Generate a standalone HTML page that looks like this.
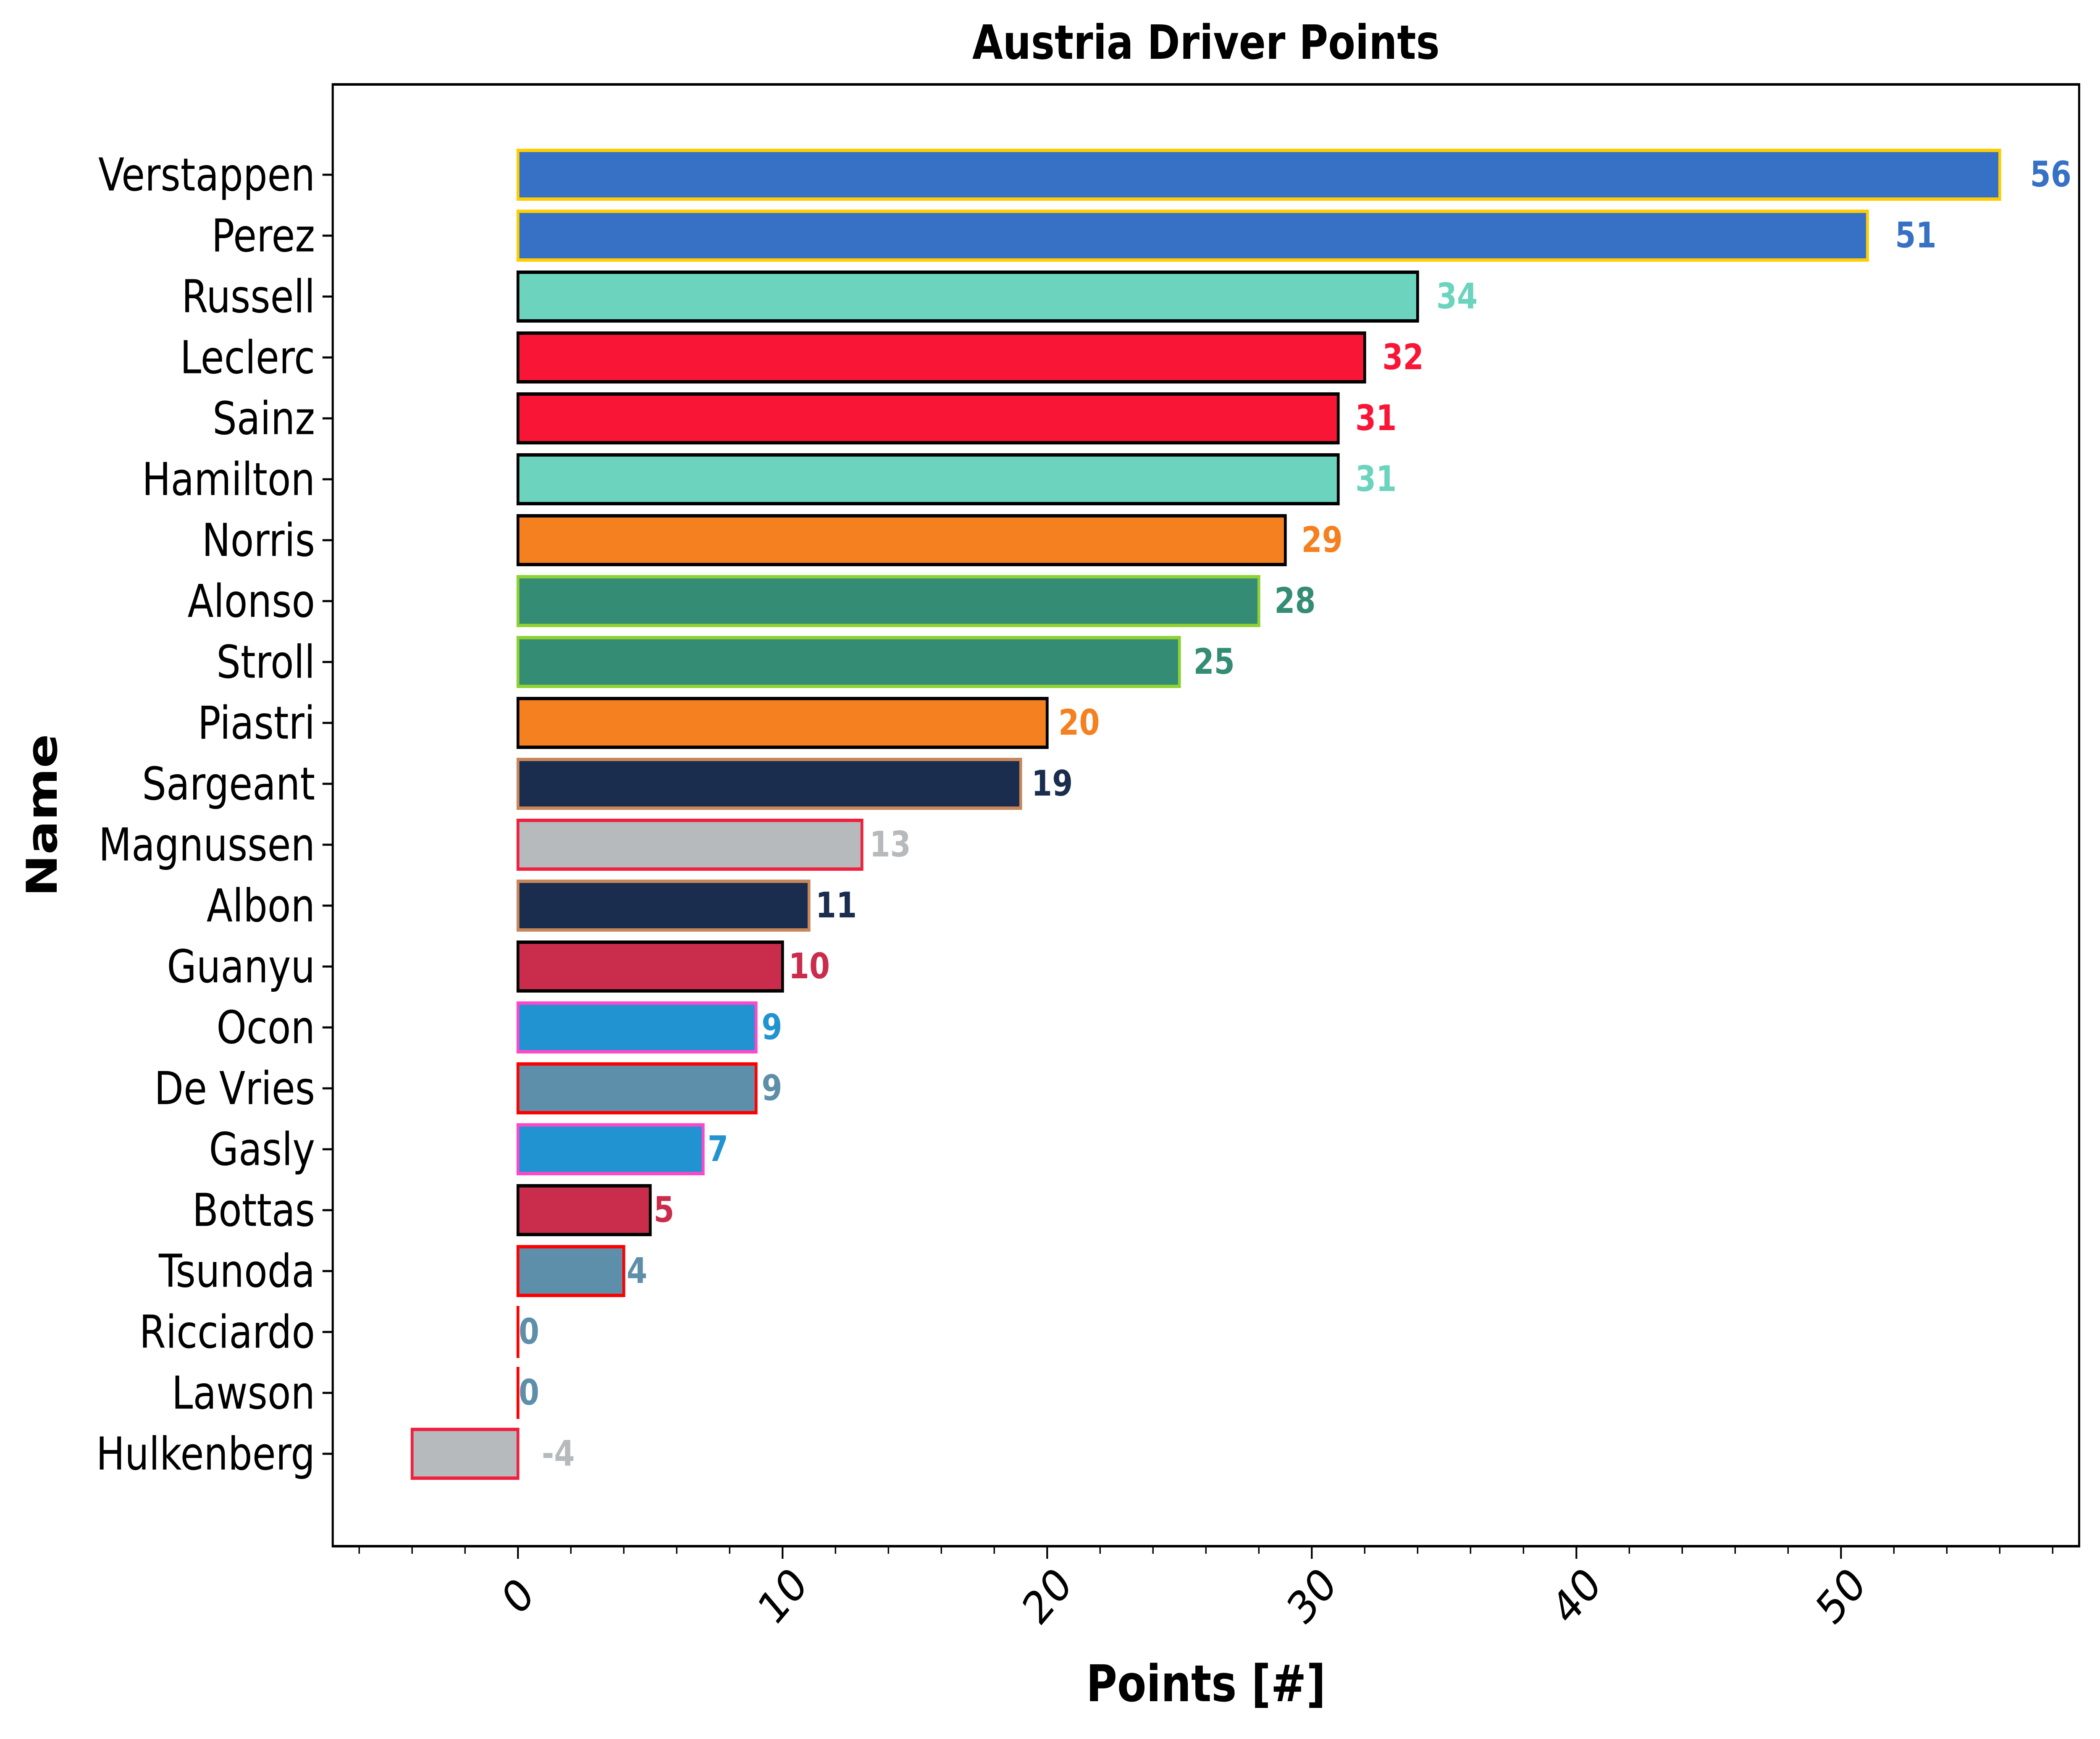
<!DOCTYPE html>
<html><head><meta charset="utf-8"><style>
html,body{margin:0;padding:0;background:#fff;overflow:hidden;width:100vw;height:100vh;}
svg{display:block;width:100vw;height:100vh;font-family:"DejaVu Sans","Liberation Sans",sans-serif;}
</style></head><body>
<svg id="chart" viewBox="0 0 5939 4140" preserveAspectRatio="none" xmlns="http://www.w3.org/2000/svg">
<rect x="0" y="0" width="5939" height="4140" fill="#fff"/>
<g id="bars"></g>
<g id="axes"></g>
</svg>
<script>
const drivers = ["Verstappen","Perez","Russell","Leclerc","Sainz","Hamilton","Norris","Alonso","Stroll","Piastri","Sargeant","Magnussen","Albon","Guanyu","Ocon","De Vries","Gasly","Bottas","Tsunoda","Ricciardo","Lawson","Hulkenberg"];
const points = [56,51,34,32,31,31,29,28,25,20,19,13,11,10,9,9,7,5,4,0,0,-4];
const fills = ["#3671C6","#3671C6","#6CD3BF","#F91536","#F91536","#6CD3BF","#F58020","#358C75","#358C75","#F58020","#1B2D4F","#B6BABD","#1B2D4F","#C92D4B","#2293D1","#5E8FAA","#2293D1","#C92D4B","#5E8FAA","#5E8FAA","#5E8FAA","#B6BABD"];
const edges = ["#FFCD00","#FFCD00","#000000","#000000","#000000","#000000","#000000","#8FD032","#8FD032","#000000","#C8875A","#F0213F","#C8875A","#000000","#FF47CC","#FF0000","#FF47CC","#000000","#FF0000","#FF0000","#FF0000","#F0213F"];
const xMajorTicks = [0,10,20,30,40,50];
const xMinorTicks = [-6,-4,-2,2,4,6,8,12,14,16,18,22,24,26,28,32,34,36,38,42,44,46,48,52,54,56,58];

const NS = "http://www.w3.org/2000/svg";
const L = 941, R = 5880, T = 201, B = 3681;
const xMin = -7, xMax = 59;
const xs = v => L + (v - xMin) / (xMax - xMin) * (R - L);
const yStep = 145, y0 = 416;
const ys = i => y0 + i * yStep;
const barH = 0.8 * yStep;

function el(tag, attrs, parent, text) {
  const e = document.createElementNS(NS, tag);
  for (const k in attrs) e.setAttribute(k, attrs[k]);
  if (text !== undefined) e.textContent = text;
  parent.appendChild(e);
  return e;
}
const bars = document.getElementById('bars');
const axes = document.getElementById('axes');

drivers.forEach((d, i) => {
  const v = points[i];
  const x1 = xs(Math.min(0, v)), x2 = xs(Math.max(0, v));
  const r = el('rect', {x: x1, y: ys(i) - barH / 2, width: Math.max(x2 - x1, 0.01), height: barH, fill: fills[i], stroke: edges[i], 'stroke-width': 8}, bars);
  
  
  const lx = v >= 0 ? xs(v * 1.02) + 2 : xs(0.9);
  const t = el('text', {x: lx, y: ys(i), 'dominant-baseline': 'central', 'font-size': 84, 'font-weight': 'bold', fill: fills[i]}, bars, String(v));
  
  
  const tk = el('line', {x1: L - 29, x2: L, y1: ys(i), y2: ys(i), stroke: '#000', 'stroke-width': 5}, axes);
  
  
  const tl = el('text', {x: L - 50, y: ys(i), 'text-anchor': 'end', 'dominant-baseline': 'central', 'font-size': 108, fill: '#000'}, axes, d);
  
  
});

const frame = el('rect', {x: L, y: T, width: R - L, height: B - T, fill: 'none', stroke: '#000', 'stroke-width': 6}, axes);



xMinorTicks.forEach(v => {
  const m = el('line', {x1: xs(v), x2: xs(v), y1: B, y2: B + 18, stroke: '#000', 'stroke-width': 4}, axes);
  
  
});
xMajorTicks.forEach(v => {
  const m = el('line', {x1: xs(v), x2: xs(v), y1: B, y2: B + 30, stroke: '#000', 'stroke-width': 5}, axes);
  
  
  const cx = xs(v), cy = 3800;
  const t = el('text', {x: cx, y: cy, 'text-anchor': 'middle', 'dominant-baseline': 'central', 'font-size': 108, fill: '#000', transform: 'rotate(-45 ' + cx + ' ' + cy + ')'}, axes, String(v));
  
  
});

const title = el('text', {x: (L + R) / 2, y: 140, 'text-anchor': 'middle', 'font-size': 112, 'font-weight': 'bold', fill: '#000'}, axes, 'Austria Driver Points');


const xl = el('text', {x: (L + R) / 2, y: 4050, 'text-anchor': 'middle', 'font-size': 120, 'font-weight': 'bold', fill: '#000'}, axes, 'Points [#]');


const ycx = 120, ycy = (T + B) / 2;
const yl = el('text', {x: ycx, y: ycy, 'text-anchor': 'middle', 'dominant-baseline': 'central', 'font-size': 120, 'font-weight': 'bold', fill: '#000', transform: 'rotate(-90 ' + ycx + ' ' + ycy + ')'}, axes, 'Name');


</script>
</body></html>
